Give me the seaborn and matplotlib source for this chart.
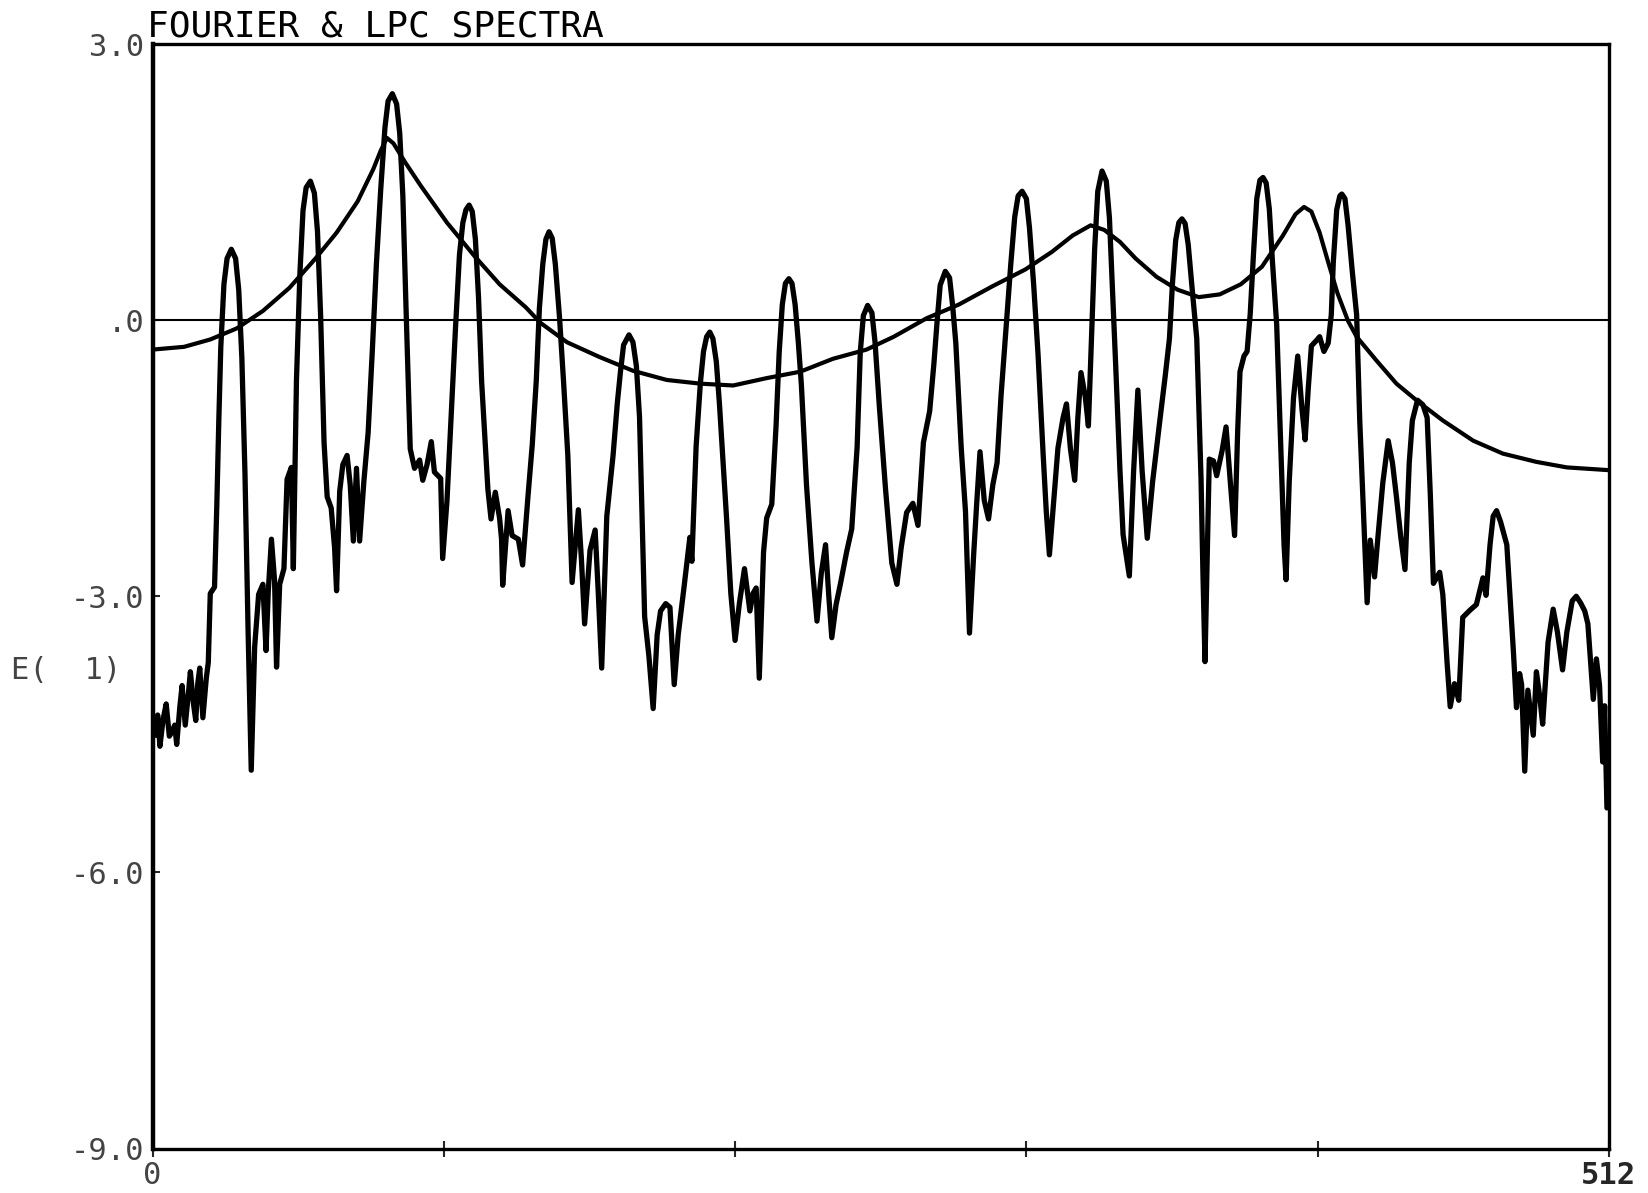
import matplotlib
matplotlib.use("Agg")
import matplotlib.pyplot as plt
import seaborn as sns

# Fourier log spectrum E(1) (bin index 0..512)
fourier_bin = [
    0.4, 1.1, 1.8, 2.6, 3.7, 4.8, 5.9, 6.7, 7.8, 8.5,
    9.6, 10.4, 11.5, 12.6, 13.3, 14.4, 15.2, 15.9, 16.6, 17.7,
    18.9, 19.6, 20.3, 21.8, 22.6, 23.3, 24.0, 25.1, 26.2, 27.7,
    29.2, 30.3, 31.4, 32.5, 33.6, 34.7, 35.9, 37.3, 38.8, 39.9,
    40.7, 41.8, 42.9, 43.6, 44.7, 46.2, 47.3, 48.8, 49.5, 50.6,
    51.8, 52.9, 54.0, 55.5, 56.9, 58.0, 59.1, 60.3, 61.4, 62.8,
    64.0, 64.7, 65.8, 66.9, 68.4, 69.5, 70.6, 71.7, 72.8, 74.3,
    75.8, 77.3, 78.7, 80.2, 81.7, 82.8, 84.3, 85.8, 86.9, 88.0,
    89.1, 90.6, 92.1, 93.9, 95.0, 96.5, 98.0, 99.1, 101.3, 102.0,
    103.5, 105.0, 106.5, 107.9, 109.1, 110.2, 111.3, 112.4, 113.5, 114.6,
    115.7, 117.9, 119.0, 120.5, 122.0, 122.7, 123.1, 125.0, 126.4, 128.6,
    130.1, 132.0, 133.5, 134.9, 136.0, 137.2, 138.3, 139.4, 140.5, 141.6,
    143.1, 144.5, 146.0, 147.5, 149.7, 150.8, 151.9, 153.8, 155.6, 156.7,
    157.9, 159.7, 161.9, 163.4, 164.5, 165.6, 167.5, 168.9, 170.1, 171.2,
    173.0, 174.5, 176.0, 177.4, 178.6, 180.4, 181.9, 183.4, 184.8, 186.7,
    188.9, 189.6, 191.1, 192.6, 193.7, 194.8, 195.9, 197.0, 198.2, 199.3,
    200.7, 201.8, 203.3, 204.8, 206.3, 208.1, 210.0, 211.1, 212.2, 213.3,
    214.8, 215.9, 217.7, 219.2, 220.3, 221.4, 222.5, 223.7, 224.8, 225.9,
    227.0, 228.1, 229.9, 231.8, 233.6, 235.1, 236.6, 237.7, 238.8, 240.3,
    241.8, 244.0, 245.8, 247.7, 248.8, 249.9, 251.4, 252.9, 254.0, 255.5,
    257.7, 259.9, 261.7, 263.2, 265.1, 267.3, 269.1, 271.0, 273.2, 274.7,
    275.8, 276.9, 278.7, 280.2, 281.3, 282.4, 284.3, 285.8, 287.2, 288.7,
    289.8, 290.9, 292.4, 293.9, 295.4, 296.9, 298.3, 300.2, 301.7, 303.1,
    304.3, 305.7, 307.2, 308.3, 309.8, 311.3, 313.1, 314.2, 315.3, 316.8,
    318.3, 320.1, 321.3, 322.7, 324.2, 325.3, 326.4, 327.9, 329.0, 330.1,
    331.2, 332.3, 333.8, 335.3, 336.4, 337.5, 338.6, 340.1, 341.2, 343.4,
    344.9, 346.4, 347.9, 349.7, 351.6, 354.2, 356.0, 357.5, 358.6, 359.7,
    360.8, 361.9, 363.0, 364.1, 365.6, 367.1, 368.6, 369.3, 370.0, 370.8,
    371.5, 373.0, 374.1, 376.0, 377.4, 378.9, 380.4, 381.5, 382.3, 383.7,
    384.8, 385.9, 387.1, 388.2, 389.3, 390.4, 391.5, 392.6, 393.7, 395.2,
    396.7, 397.8, 398.5, 399.6, 401.1, 402.6, 404.1, 405.2, 406.3, 407.4,
    409.2, 410.3, 411.8, 413.3, 414.4, 415.1, 416.3, 417.4, 418.1, 419.2,
    420.3, 421.8, 423.3, 424.4, 425.5, 427.0, 428.1, 429.6, 430.7, 432.5,
    434.4, 435.9, 437.3, 438.8, 440.3, 441.8, 442.9, 444.7, 446.6, 448.1,
    449.2, 450.3, 452.5, 453.6, 455.1, 456.2, 457.7, 459.2, 460.6, 463.2,
    465.4, 467.7, 468.8, 470.2, 471.3, 472.5, 473.9, 476.1, 477.3, 478.4,
    479.5, 480.6, 481.3, 482.4, 483.5, 485.4, 486.5, 487.6, 488.7, 490.6,
    492.4, 493.9, 495.7, 497.2, 499.1, 500.5, 502.0, 503.5, 504.6, 506.5,
    507.6, 508.7, 509.8, 510.5, 511.3,
]
fourier_e = [
    -4.40, -4.51, -4.29, -4.63, -4.34, -4.17, -4.52, -4.48, -4.40, -4.61,
    -4.20, -3.97, -4.40, -4.06, -3.82, -4.17, -4.35, -3.95, -3.78, -4.32,
    -3.89, -3.72, -2.97, -2.90, -2.01, -1.09, -0.29, 0.39, 0.67, 0.77,
    0.67, 0.33, -0.41, -1.67, -3.38, -4.89, -3.55, -2.98, -2.87, -3.59,
    -2.94, -2.38, -2.83, -3.77, -2.87, -2.70, -1.73, -1.60, -2.70, -0.65,
    0.50, 1.19, 1.44, 1.51, 1.38, 0.96, 0.04, -1.33, -1.92, -2.04,
    -2.47, -2.94, -1.86, -1.57, -1.47, -1.79, -2.40, -1.61, -2.40, -1.75,
    -1.22, -0.31, 0.61, 1.41, 2.09, 2.38, 2.46, 2.35, 2.03, 1.35,
    0.15, -1.40, -1.61, -1.52, -1.74, -1.57, -1.32, -1.65, -1.72, -2.59,
    -1.97, -1.03, -0.09, 0.71, 1.06, 1.20, 1.25, 1.18, 0.88, 0.25,
    -0.67, -1.84, -2.16, -1.87, -2.15, -2.38, -2.88, -2.07, -2.34, -2.38,
    -2.66, -1.91, -1.35, -0.66, 0.13, 0.61, 0.88, 0.96, 0.89, 0.61,
    0.02, -0.67, -1.47, -2.85, -2.06, -2.61, -3.30, -2.50, -2.28, -2.96,
    -3.78, -2.13, -1.47, -0.90, -0.56, -0.27, -0.16, -0.24, -0.50, -1.05,
    -3.22, -3.65, -4.22, -3.42, -3.16, -3.08, -3.12, -3.96, -3.42, -2.94,
    -2.36, -2.62, -1.37, -0.68, -0.34, -0.18, -0.13, -0.20, -0.45, -0.91,
    -1.60, -2.15, -2.97, -3.48, -3.08, -2.70, -3.16, -2.97, -2.91, -3.89,
    -2.52, -2.15, -2.00, -1.15, -0.35, 0.17, 0.40, 0.45, 0.40, 0.17,
    -0.23, -0.70, -1.79, -2.63, -3.27, -2.75, -2.44, -2.98, -3.45, -3.09,
    -2.87, -2.52, -2.27, -1.38, -0.35, 0.05, 0.16, 0.08, -0.24, -0.93,
    -1.84, -2.64, -2.87, -2.47, -2.09, -1.99, -2.23, -1.33, -0.99, -0.47,
    -0.02, 0.38, 0.53, 0.46, 0.15, -0.25, -1.39, -2.08, -3.40, -2.53,
    -1.96, -1.43, -1.96, -2.16, -1.79, -1.55, -0.82, -0.02, 0.60, 1.12,
    1.35, 1.40, 1.32, 1.00, 0.37, -0.37, -1.46, -2.08, -2.55, -1.97,
    -1.39, -1.06, -0.91, -1.40, -1.74, -1.06, -0.57, -0.83, -1.15, -0.19,
    0.77, 1.40, 1.62, 1.51, 1.11, 0.31, -0.49, -1.63, -2.33, -2.78,
    -1.64, -0.76, -1.64, -2.37, -1.75, -1.07, -0.61, -0.20, 0.42, 0.87,
    1.06, 1.10, 1.05, 0.82, 0.30, -0.20, -1.72, -2.79, -3.71, -2.56,
    -1.51, -1.53, -1.69, -1.42, -1.16, -1.76, -2.34, -1.19, -0.56, -0.39,
    -0.34, 0.07, 0.75, 1.32, 1.52, 1.55, 1.49, 1.21, 0.64, -0.05,
    -1.42, -2.45, -2.82, -1.76, -0.85, -0.39, -0.97, -1.30, -0.74, -0.28,
    -0.22, -0.18, -0.34, -0.25, 0.06, 0.63, 1.20, 1.35, 1.37, 1.32,
    1.03, 0.52, 0.06, -1.09, -1.92, -3.07, -2.39, -2.79, -2.39, -1.77,
    -1.31, -1.55, -1.92, -2.35, -2.71, -1.55, -1.09, -0.87, -0.92, -1.06,
    -1.89, -2.86, -2.74, -2.98, -3.72, -4.20, -3.95, -4.13, -3.23, -3.15,
    -3.09, -2.80, -2.99, -2.44, -2.13, -2.07, -2.19, -2.44, -3.04, -3.59,
    -4.21, -3.84, -3.96, -4.90, -4.02, -4.51, -3.82, -4.07, -4.39, -3.50,
    -3.14, -3.39, -3.80, -3.39, -3.05, -3.00, -3.07, -3.16, -3.30, -4.12,
    -3.68, -3.97, -4.80, -4.19, -5.30,
]

# LPC envelope
lpc_bin = [
    0.0, 11.1, 20.3, 29.6, 38.8, 48.1, 57.3, 64.7, 72.1, 77.6,
    80.2, 82.4, 84.7, 88.7, 94.3, 103.5, 112.8, 122.0, 131.2, 136.4,
    145.7, 157.1, 168.9, 180.8, 192.6, 204.1, 215.9, 227.7, 239.2, 251.0,
    260.6, 272.1, 283.5, 295.4, 306.8, 316.1, 323.5, 329.8, 334.6, 340.1,
    345.6, 353.0, 360.4, 367.8, 375.2, 382.6, 390.0, 397.4, 401.8, 404.8,
    407.4, 410.3, 413.3, 416.6, 420.3, 423.3, 430.3, 437.3, 445.1, 453.6,
    464.3, 474.7, 486.5, 497.2, 512.0,
]
lpc_e = [
    -0.32, -0.29, -0.21, -0.09, 0.10, 0.35, 0.67, 0.95, 1.29, 1.64,
    1.84, 1.98, 1.92, 1.72, 1.46, 1.06, 0.71, 0.39, 0.14, -0.03,
    -0.24, -0.40, -0.55, -0.65, -0.69, -0.71, -0.63, -0.56, -0.42, -0.32,
    -0.18, 0.02, 0.17, 0.37, 0.55, 0.74, 0.92, 1.03, 0.98, 0.85,
    0.67, 0.47, 0.33, 0.25, 0.28, 0.39, 0.58, 0.92, 1.15, 1.23,
    1.18, 0.95, 0.63, 0.29, -0.01, -0.18, -0.44, -0.69, -0.89, -1.09,
    -1.31, -1.45, -1.54, -1.60, -1.63,
]

x_ticks = [0, 102.4, 204.8, 307.2, 409.6, 512]
x_ticklabels = ["0", "", "", "", "", "512"]
y_ticks = [3, 0, -3, -6, -9]
y_ticklabels = ["3.0", ".0", "-3.0", "-6.0", "-9.0"]

sns.set_style("white")
plt.rcParams["font.family"] = ["DejaVu Sans Mono"]

fig = plt.figure(figsize=(16.49, 11.93), dpi=100)
ax = fig.add_axes([0.0925, 0.0373, 0.8832, 0.9258])

sns.lineplot(x=fourier_bin, y=fourier_e, ax=ax, color="black", lw=3.8,
             sort=False, estimator=None)
sns.lineplot(x=lpc_bin, y=lpc_e, ax=ax, color="black", lw=3.0,
             sort=False, estimator=None)
ax.axhline(0, color="black", lw=1.5)

ax.set_xlim(0, 512)
ax.set_ylim(-9, 3)
ax.set_xticks(x_ticks)
ax.set_xticklabels(x_ticklabels)
ax.set_yticks(y_ticks)
ax.set_yticklabels(y_ticklabels, color="#444444")
ax.tick_params(axis="x", direction="inout", length=12, width=1.5,
               labelsize=22, pad=3, bottom=True)
ax.tick_params(axis="y", direction="in", length=5, width=1.5,
               labelsize=22, pad=6, left=True)
ax.get_xticklabels()[0].set_color("#444444")
ax.get_xticklabels()[-1].set_fontweight("bold")

for s in ax.spines.values():
    s.set_linewidth(2.4)
    s.set_color("black")
ax.spines["left"].set_linewidth(3.2)

ax.text(-0.0036, 1.0065, "FOURIER & LPC SPECTRA", transform=ax.transAxes,
        ha="left", va="baseline", fontsize=26, color="black")
ax.set_ylabel("E(  1)", rotation=0, ha="left", va="center",
              fontsize=22, color="#444444")
ax.yaxis.set_label_coords(-0.0975, 0.433)
ax.set_xlabel("")

fig.savefig("out.png", dpi=100)
